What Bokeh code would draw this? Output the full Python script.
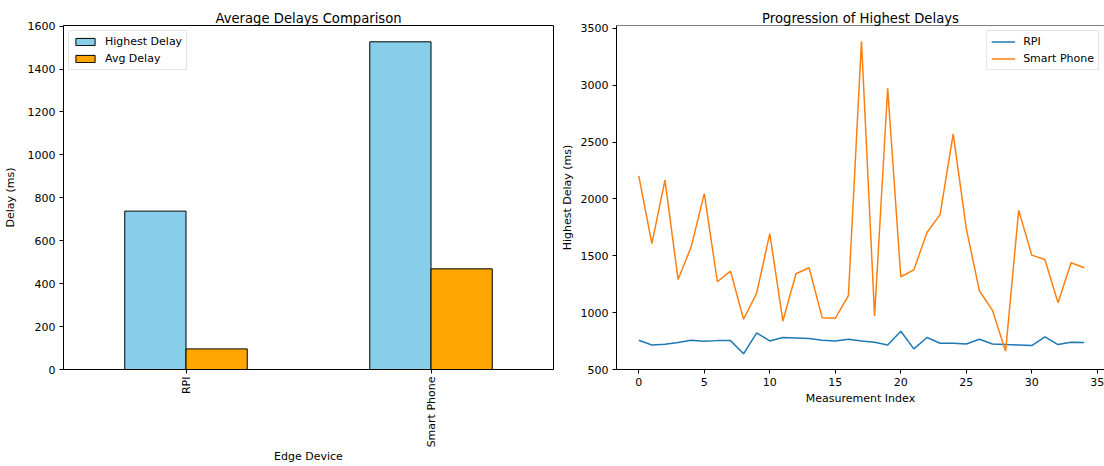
import math
from bokeh.plotting import figure
from bokeh.layouts import row
from bokeh.models import Range1d, FactorRange, FixedTicker, ColumnDataSource, Span
from bokeh.transform import dodge
from bokeh.embed import file_html
from bokeh.resources import INLINE

# ---------------- data ----------------
devices = ["RPI", "Smart Phone"]
highest_delay = [738, 1527]
avg_delay = [96, 469]

measurement_index = list(range(35))
rpi_highest = [757, 716, 722, 737, 757, 749, 754, 754, 638, 822,
               751, 781, 778, 772, 757, 751, 766, 751, 740, 716,
               836, 681, 781, 731, 731, 725, 766, 725, 719, 716,
               711, 787, 719, 740, 737]
phone_highest = [2204, 1608, 2166, 1292, 1579, 2047, 1272, 1365, 942, 1172,
                 1696, 927, 1342, 1395, 956, 950, 1149, 3388, 971, 2974,
                 1316, 1377, 1705, 1862, 2573, 1740, 1193, 1020, 661, 1900,
                 1506, 1468, 1088, 1439, 1395]

FONT = "DejaVu Sans"
TICK_FS = "11px"


def style(p):
    p.title.text_font = FONT
    p.title.text_font_size = "13.2px"
    p.title.text_font_style = "normal"
    p.title.align = "center"
    p.title.standoff = 0
    p.title.text_color = "black"
    p.outline_line_color = "black"
    p.outline_line_width = 1
    p.xgrid.grid_line_color = None
    p.ygrid.grid_line_color = None
    p.background_fill_color = "white"
    p.border_fill_color = "white"
    for ax in (p.xaxis[0], p.yaxis[0]):
        ax.axis_line_color = "black"
        ax.major_tick_line_color = "black"
        ax.major_tick_out = 4
        ax.major_tick_in = 0
        ax.minor_tick_line_color = None
        ax.major_label_text_font = FONT
        ax.major_label_text_font_size = TICK_FS
        ax.major_label_text_color = "black"
        ax.major_label_standoff = 4
        ax.axis_label_text_font = FONT
        ax.axis_label_text_font_size = TICK_FS
        ax.axis_label_text_font_style = "normal"
        ax.axis_label_text_color = "black"
        ax.axis_label_standoff = 6


def style_legend(p, loc):
    lg = p.legend[0]
    lg.location = loc
    lg.label_text_font = FONT
    lg.label_text_font_size = TICK_FS
    lg.label_text_color = "black"
    lg.border_line_color = "#cccccc"
    lg.border_line_width = 1
    lg.background_fill_alpha = 0.8
    lg.glyph_width = 24
    lg.glyph_height = 9
    lg.label_height = 13
    lg.spacing = 4
    lg.padding = 4
    lg.margin = 5
    lg.label_standoff = 8


# ---------------- left: grouped bars ----------------
src = ColumnDataSource(dict(device=devices, highest=highest_delay, avg=avg_delay))
p1 = figure(x_range=FactorRange(*devices), y_range=Range1d(0, 1603),
            width=554, height=466, output_backend="svg", toolbar_location=None,
            title="Average Delays Comparison",
            min_border_left=63, min_border_right=1, min_border_top=25,
            min_border_bottom=96)
p1.vbar(x=dodge("device", -0.125, range=p1.x_range), top="highest", width=0.25,
        source=src, fill_color="#87ceeb", line_color="black", line_width=1,
        legend_label="Highest Delay")
p1.vbar(x=dodge("device", 0.125, range=p1.x_range), top="avg", width=0.25,
        source=src, fill_color="#ffa500", line_color="black", line_width=1,
        legend_label="Avg Delay")
style(p1)
p1.yaxis.ticker = FixedTicker(ticks=[0, 200, 400, 600, 800, 1000, 1200, 1400, 1600])
p1.xaxis.major_label_orientation = math.pi / 2
p1.xaxis.major_label_standoff = 3
p1.xaxis.axis_label = "Edge Device"
p1.yaxis.axis_label = "Delay (ms)"
p1.xaxis.axis_label_standoff = 0
p1.yaxis.axis_label_standoff = 8
style_legend(p1, "top_left")

# ---------------- right: lines ----------------
p2 = figure(x_range=Range1d(-1.7, 35.55), y_range=Range1d(500, 3526),
            width=550, height=466, output_backend="svg", toolbar_location=None,
            title="Progression of Highest Delays",
            min_border_left=62, min_border_right=0, min_border_top=25,
            min_border_bottom=96)
p2.line(measurement_index, rpi_highest, line_color="#1f77b4", line_width=1.5,
        legend_label="RPI")
p2.line(measurement_index, phone_highest, line_color="#ff7f0e", line_width=1.5,
        legend_label="Smart Phone")
style(p2)
p2.outline_line_color = None
p2.add_layout(Span(location=3526, dimension="width", line_color="black", line_width=1))
p2.xaxis.ticker = FixedTicker(ticks=[0, 5, 10, 15, 20, 25, 30, 35])
p2.yaxis.ticker = FixedTicker(ticks=[500, 1000, 1500, 2000, 2500, 3000, 3500])
p2.xaxis.axis_label = "Measurement Index"
p2.yaxis.axis_label = "Highest Delay (ms)"
p2.xaxis.axis_label_standoff = 3
p2.yaxis.axis_label_standoff = 4
style_legend(p2, "top_right")

layout = row(p1, p2)
open("out.html", "w").write(file_html(layout, INLINE))
